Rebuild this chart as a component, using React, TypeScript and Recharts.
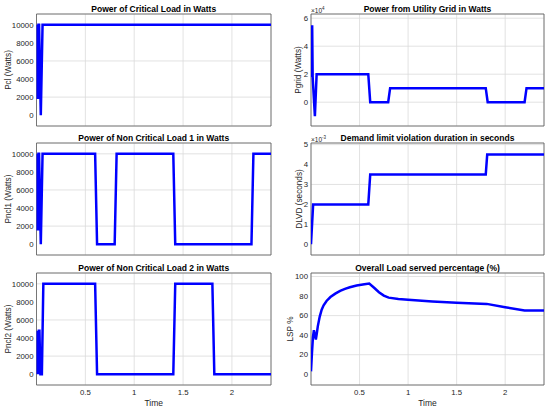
import React from "react";
import { LineChart, Line, XAxis, YAxis, CartesianGrid, ReferenceArea, Label } from "recharts";

// ---- data ----
const T_PCL = [0, 0.004, 0.008, 0.012, 0.016, 0.02, 0.026, 0.044, 0.062, 2.4];
const V_PCL = [1800, 10000, 1800, 10000, 1800, 10000, 10000, 0, 10000, 10000];

const T_PNCL1 = [0, 0.004, 0.008, 0.012, 0.016, 0.02, 0.026, 0.044, 0.062, 0.6, 0.62, 0.8, 0.82, 1.4, 1.42, 2.2, 2.22, 2.4];
const V_PNCL1 = [1500, 10000, 1500, 10000, 1500, 10000, 10000, 0, 10000, 10000, 0, 0, 10000, 10000, 0, 0, 10000, 10000];

const T_PNCL2 = [0, 0.008, 0.012, 0.016, 0.02, 0.024, 0.03, 0.04, 0.055, 0.07, 0.6, 0.62, 1.4, 1.42, 1.8, 1.82, 2.4];
const V_PNCL2 = [0, 4800, 0, 4800, 0, 4800, 4800, 0, 0, 10000, 10000, 0, 0, 10000, 10000, 0, 0];

const T_PGRID = [0, 0.004, 0.008, 0.012, 0.017, 0.04, 0.058, 0.59, 0.61, 0.795, 0.815, 1.8, 1.82, 2.2, 2.22, 2.4];
const V_PGRID = [18000, 55000, 18000, 55000, 18000, -10000, 20000, 20000, 0, 0, 10000, 10000, 0, 0, 10000, 10000];

const T_DLVD = [0, 0.022, 0.59, 0.61, 1.8, 1.815, 2.4];
const V_DLVD = [0, 0.002, 0.002, 0.0035, 0.0035, 0.0045, 0.0045];

const T_LSP = [0, 0.01, 0.02, 0.03, 0.04, 0.05, 0.06, 0.07, 0.09, 0.11, 0.13, 0.16, 0.2, 0.25, 0.3, 0.35, 0.4, 0.47, 0.55, 0.6, 0.65, 0.7, 0.75, 0.8, 0.9, 1.0, 1.25, 1.5, 1.81, 2.0, 2.2, 2.4];
const V_LSP = [3, 22, 38, 45, 40, 35.5, 42, 49, 59, 66, 70.5, 75, 79, 82.5, 85.3, 87.3, 89, 90.8, 92, 92.8, 88.5, 84, 80.5, 78.4, 77, 76.2, 74.5, 73.2, 72, 68.6, 65.2, 65.2];

const X_TICKS = [0.5, 1, 1.5, 2];
const LOAD_TICKS = [0, 2000, 4000, 6000, 8000, 10000];
const GRID_TICKS = [0, 20000, 40000, 60000];
const DLVD_TICKS = [0, 0.001, 0.002, 0.003, 0.004, 0.005];
const LSP_TICKS = [0, 20, 40, 60, 80, 100];

const TITLES = [
  "Power of Critical Load in Watts",
  "Power from Utility Grid in Watts",
  "Power of Non Critical Load 1 in Watts",
  "Demand limit violation duration in seconds",
  "Power of Non Critical Load 2 in Watts",
  "Overall Load served percentage (%)",
];

const zip = (ts: number[], vs: number[]) => ts.map((t, i) => ({ t, v: vs[i] }));

const FONT = '"Liberation Sans", Arial, Helvetica, sans-serif';
const TXT = "#262626";
const PLOT_H = 112;

type PanelProps = {
  col: 0 | 1;
  plotTop: number;
  data: { t: number; v: number }[];
  domain: [number, number];
  ticks: number[];
  fmt?: (v: number) => string;
  yLabel: string;
  labelOffset: number;
  showX: boolean;
  title: string;
  exponent?: string;
};

const COLS = [
  { left: 0, yw: 36.5, right: 4 },
  { left: 275, yw: 36, right: 6 },
];

function Panel(p: PanelProps) {
  const c = COLS[p.col];
  const chartTop = p.plotTop - 5;
  const plotLeft = c.left + c.yw;
  const plotW = 275 - c.yw - c.right;
  return (
    <>
      <div
        style={{
          position: "absolute",
          left: plotLeft,
          width: plotW,
          top: p.plotTop - 10,
          height: 10,
          lineHeight: "10px",
          textAlign: "center",
          fontWeight: "bold",
          fontSize: 8.5,
          color: "#000",
          whiteSpace: "nowrap",
        }}
      >
        {p.title}
      </div>
      {p.exponent && (
        <div
          style={{
            position: "absolute",
            left: plotLeft,
            top: p.plotTop - 10,
            height: 10,
            lineHeight: "10px",
            fontSize: 6.5,
            color: TXT,
            whiteSpace: "nowrap",
          }}
        >
          ×10<sup style={{ fontSize: 4.5, verticalAlign: "3px" }}>{p.exponent}</sup>
        </div>
      )}
      <div style={{ position: "absolute", left: c.left, top: chartTop }}>
        <LineChart
          width={275}
          height={5 + PLOT_H + 24}
          data={p.data}
          margin={{ top: 5, right: c.right, bottom: 0, left: 0 }}
        >
          <CartesianGrid stroke="#dadada" strokeWidth={0.8} />
          <XAxis
            dataKey="t"
            type="number"
            domain={[0, 2.4]}
            ticks={X_TICKS}
            allowDataOverflow
            height={24}
            axisLine={false}
            tickLine={false}
            tickSize={0}
            tickMargin={4}
            tick={{ fontSize: 7.8, fill: TXT, fontFamily: FONT }}
            tickFormatter={(v: number) => (p.showX ? String(v) : "")}
          >
            {p.showX && (
              <Label
                value="Time"
                position="insideBottom"
                offset={3}
                style={{ fontSize: 8.5, fill: TXT, fontFamily: FONT }}
              />
            )}
          </XAxis>
          <YAxis
            type="number"
            domain={p.domain}
            ticks={p.ticks}
            allowDataOverflow
            width={c.yw}
            axisLine={false}
            tickLine={false}
            tickSize={0}
            tickMargin={3}
            tick={{ fontSize: 7.8, fill: TXT, fontFamily: FONT }}
            tickFormatter={p.fmt}
          >
            <Label
              value={p.yLabel}
              angle={-90}
              position="insideLeft"
              offset={p.labelOffset}
              style={{ textAnchor: "middle", fontSize: 8.2, fill: TXT, fontFamily: FONT }}
            />
          </YAxis>
          <Line
            type="linear"
            dataKey="v"
            stroke="#0000ff"
            strokeWidth={2.5}
            dot={false}
            isAnimationActive={false}
          />
          <ReferenceArea
            x1={0}
            x2={2.4}
            y1={p.domain[0]}
            y2={p.domain[1]}
            fill="none"
            stroke="#5a5a5a"
            strokeWidth={0.8}
            ifOverflow="visible"
          />
        </LineChart>
      </div>
    </>
  );
}

export default function App() {
  return (
    <div
      style={{
        position: "absolute",
        left: 0,
        top: 0,
        width: 550,
        height: 409,
        background: "#fff",
        fontFamily: FONT,
        overflow: "hidden",
      }}
    >
      <Panel col={0} plotTop={14} data={zip(T_PCL, V_PCL)} domain={[-1200, 11200]} ticks={LOAD_TICKS}
        yLabel="Pcl (Watts)" labelOffset={8.5} showX={false} title={TITLES[0]} />
      <Panel col={1} plotTop={14} data={zip(T_PGRID, V_PGRID)} domain={[-17000, 63000]} ticks={GRID_TICKS}
        fmt={(v: number) => String(Math.round(v / 10000))} yLabel="Pgrid (Watts)" labelOffset={23.5}
        showX={false} title={TITLES[1]} exponent="4" />
      <Panel col={0} plotTop={143.3} data={zip(T_PNCL1, V_PNCL1)} domain={[-1200, 11200]} ticks={LOAD_TICKS}
        yLabel="Pncl1 (Watts)" labelOffset={8.5} showX={false} title={TITLES[2]} />
      <Panel col={1} plotTop={143.3} data={zip(T_DLVD, V_DLVD)} domain={[-0.00054, 0.00508]} ticks={DLVD_TICKS}
        fmt={(v: number) => String(Math.round(v * 1000))} yLabel="DLVD (seconds)" labelOffset={24}
        showX={false} title={TITLES[3]} exponent="-3" />
      <Panel col={0} plotTop={272.5} data={zip(T_PNCL2, V_PNCL2)} domain={[-1200, 11200]} ticks={LOAD_TICKS}
        yLabel="Pncl2 (Watts)" labelOffset={8.5} showX={true} title={TITLES[4]} />
      <Panel col={1} plotTop={272.5} data={zip(T_LSP, V_LSP)} domain={[-11, 103.6]} ticks={LSP_TICKS}
        yLabel="LSP %" labelOffset={15} showX={true} title={TITLES[5]} />
    </div>
  );
}
